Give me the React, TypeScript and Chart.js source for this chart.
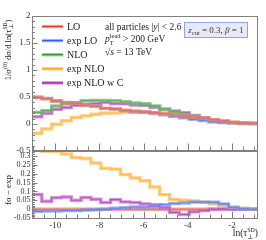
import React, { useEffect, useRef } from 'react';
import { Chart, registerables } from 'chart.js';

Chart.register(...registerables);

// ---------- data ----------
const binEdges = [-11.05, -10.605, -10.16, -9.716, -9.271, -8.826, -8.381, -7.936, -7.492, -7.047, -6.602, -6.157, -5.712, -5.268, -4.823, -4.378, -3.933, -3.488, -3.044, -2.599, -2.154, -1.709, -1.264, -0.82];

const seriesNames = ['LO', 'exp LO', 'NLO', 'exp NLO', 'exp NLO w C'];

// upper panel: 1/sigma0 dsigma/dln(tau)
const loTop = [0.488, 0.465, 0.422, 0.392, 0.382, 0.347, 0.33, 0.29, 0.28, 0.255, 0.24, 0.227, 0.21, 0.195, 0.172, 0.15, 0.125, 0.105, 0.08, 0.058, 0.03, 0.015, 0.01];
const expLoTop = [0.5, 0.475, 0.432, 0.4, 0.39, 0.352, 0.333, 0.29, 0.275, 0.247, 0.228, 0.215, 0.195, 0.17, 0.14, 0.115, 0.085, 0.065, 0.04, 0.028, 0.02, 0.013, 0.01];
const nloTop = [0.216, 0.247, 0.333, 0.37, 0.395, 0.432, 0.437, 0.435, 0.43, 0.413, 0.39, 0.375, 0.335, 0.277, 0.225, 0.18, 0.145, 0.108, 0.072, 0.048, 0.028, 0.016, 0.012];
const expNloTop = [-0.17, -0.09, -0.005, 0.06, 0.12, 0.15, 0.18, 0.205, 0.205, 0.218, 0.215, 0.215, 0.21, 0.195, 0.17, 0.13, 0.1, 0.068, 0.042, 0.026, 0.016, 0.01, 0.01];
const expNloCTop = [0.135, 0.2, 0.27, 0.303, 0.345, 0.366, 0.38, 0.397, 0.376, 0.372, 0.352, 0.345, 0.31, 0.269, 0.243, 0.21, 0.16, 0.116, 0.072, 0.046, 0.028, 0.016, 0.012];

// lower panel: fo - exp
const loDiff = [0, 0, 0, 0, 0, 0, 0, 0, 0, 0, 0, 0, 0, 0, 0, 0, 0, 0, 0, 0, 0, 0, 0];
const expLoDiff = [-0.012, -0.01, -0.01, -0.008, -0.008, -0.005, -0.003, 0.0, 0.005, 0.008, 0.012, 0.012, 0.015, 0.025, 0.032, 0.035, 0.04, 0.04, 0.04, 0.03, 0.01, 0.002, 0.0];
const expNloDiff = [0.4, 0.325, 0.325, 0.31, 0.29, 0.285, 0.26, 0.23, 0.225, 0.195, 0.175, 0.16, 0.125, 0.082, 0.055, 0.05, 0.046, 0.04, 0.03, 0.022, 0.012, 0.006, 0.002];
const expNloCDiff = [0.083, 0.045, 0.064, 0.069, 0.05, 0.066, 0.056, 0.038, 0.054, 0.041, 0.038, 0.03, 0.025, 0.008, -0.018, -0.03, -0.015, -0.008, 0.0, 0.002, 0.0, 0.0, 0.0];

const xTicks = [-10, -8, -6, -4, -2];
const yTopTicks = [-0.5, 0, 0.5, 1, 1.5, 2];
const yTopTickLabels = ['-0.5', '0', '0.5', '1', '1.5', '2'];
const yBotTicks = [-0.05, 0, 0.05, 0.1, 0.15, 0.2, 0.25, 0.3];
const yBotTickLabels = ['-0.05', '0', '0.05', '0.1', '0.15', '0.2', '0.25', '0.3'];

// ---------- styles ----------
const FAMILY = '"Liberation Serif", "DejaVu Serif", serif';
const COLORS = [
  { line: '#e03a28', band: 'rgba(240,130,110,0.75)' },
  { line: '#3050f0', band: 'rgba(120,150,245,0.7)' },
  { line: '#229922', band: 'rgba(110,190,110,0.75)' },
  { line: '#ff9a00', band: 'rgba(255,195,100,0.8)' },
  { line: '#990099', band: 'rgba(200,110,205,0.75)' },
];

type Seg = { t: string; italic?: boolean; size?: number; dy?: number; keep?: boolean };

function fontOf(s: Seg, base: number) {
  return `${s.italic ? 'italic ' : ''}${s.size ?? base}px ${FAMILY}`;
}
function richWidth(ctx: CanvasRenderingContext2D, segs: Seg[], base: number) {
  let w = 0;
  let pending = 0;
  for (const s of segs) {
    ctx.font = fontOf(s, base);
    const sw = ctx.measureText(s.t).width;
    if (s.keep) { pending = Math.max(pending, sw); continue; }
    w += Math.max(pending, sw);
    pending = 0;
  }
  return w + pending;
}
function drawRich(ctx: CanvasRenderingContext2D, segs: Seg[], x: number, y: number, base: number) {
  let cx = x;
  let pending = 0;
  ctx.textAlign = 'left';
  ctx.textBaseline = 'alphabetic';
  for (const s of segs) {
    ctx.font = fontOf(s, base);
    ctx.fillText(s.t, cx, y + (s.dy || 0));
    const sw = ctx.measureText(s.t).width;
    if (s.keep) { pending = Math.max(pending, sw); continue; }
    cx += Math.max(pending, sw);
    pending = 0;
  }
}

function mkSteps(vals: number[]) {
  const pts = vals.map((v, i) => ({ x: binEdges[i], y: v }));
  pts.push({ x: binEdges[binEdges.length - 1], y: vals[vals.length - 1] });
  return pts;
}

function pushSeries(list: any[], vals: number[], idx: number, axis: string) {
  const common = { data: mkSteps(vals), yAxisID: axis, xAxisID: 'x', stepped: 'before', pointRadius: 0, fill: false, tension: 0 };
  list.push({ ...common, label: seriesNames[idx] + ' band', borderColor: COLORS[idx].band, borderWidth: 3.4 });
  list.push({ ...common, label: seriesNames[idx], borderColor: COLORS[idx].line, borderWidth: 1.1 });
}

const decor = {
  id: 'decor',
  afterDatasetsDraw(chart: any) {
    const { ctx } = chart;
    const xs = chart.scales.x;
    const yT = chart.scales.y;
    const yB = chart.scales.y2;
    const L = Math.round(xs.left) + 0.5;
    const R = Math.round(xs.right) - 0.5;
    ctx.save();
    ctx.strokeStyle = '#808080';
    ctx.lineWidth = 1;
    const panels = [
      { s: yT, major: yTopTicks, minorStep: 0.1 },
      { s: yB, major: yBotTicks, minorStep: 0.01 },
    ];
    for (const p of panels) {
      const T = Math.round(p.s.top) + 0.5;
      const B = Math.round(p.s.bottom) - 0.5;
      ctx.strokeRect(L, T, R - L, B - T);
      ctx.beginPath();
      for (let v = -11; v <= -0.9; v += 0.5) {
        const px = Math.round(xs.getPixelForValue(v)) + 0.5;
        const major = xTicks.includes(v);
        const len = major ? 7 : 4;
        ctx.moveTo(px, B);
        ctx.lineTo(px, B - len);
      }
      const lo = p.s.min, hi = p.s.max;
      const n0 = Math.ceil(lo / p.minorStep - 1e-6), n1 = Math.floor(hi / p.minorStep + 1e-6);
      for (let k = n0; k <= n1; k++) {
        const v = k * p.minorStep;
        const py = Math.round(p.s.getPixelForValue(v)) + 0.5;
        const major = p.major.some((m: number) => Math.abs(m - v) < 1e-6);
        ctx.moveTo(L, py);
        ctx.lineTo(L + (major ? 5 : 2.5), py);
      }
      ctx.stroke();
    }
    ctx.restore();
  },
  afterDraw(chart: any) {
    const { ctx } = chart;
    ctx.save();
    ctx.fillStyle = '#222';
    seriesNames.forEach((name, i) => {
      const y = 26.5 + i * 14.1;
      ctx.lineCap = 'butt';
      ctx.strokeStyle = COLORS[i].band;
      ctx.lineWidth = 3.4;
      ctx.beginPath(); ctx.moveTo(42, y); ctx.lineTo(63, y); ctx.stroke();
      ctx.strokeStyle = COLORS[i].line;
      ctx.lineWidth = 1.1;
      ctx.beginPath(); ctx.moveTo(42, y); ctx.lineTo(63, y); ctx.stroke();
      drawRich(ctx, [{ t: name }], 67, y + 3.5, 10);
    });
    drawRich(ctx, [{ t: 'all particles |' }, { t: 'y', italic: true }, { t: '| < 2.6' }], 105, 29.5, 9.5);
    drawRich(ctx, [{ t: 'p', italic: true }, { t: 'lead', size: 6.5, dy: -4, keep: true }, { t: 'T', size: 6.5, dy: 2.5 }, { t: ' > 200 GeV' }], 105, 42, 9.5);
    drawRich(ctx, [{ t: '√' }, { t: 's', italic: true }, { t: ' = 13 TeV' }], 105, 54.5, 9.5);
    ctx.fillStyle = '#e7eaf8';
    ctx.strokeStyle = '#97a3e0';
    ctx.lineWidth = 1;
    ctx.fillRect(184, 22, 64, 16);
    ctx.strokeRect(184.5, 22.5, 63, 15);
    ctx.fillStyle = '#333';
    const boxSegs: Seg[] = [{ t: 'z', italic: true }, { t: 'cut', size: 6.5, dy: 2 }, { t: ' = 0.3, ' }, { t: 'β', italic: true }, { t: ' = 1' }];
    const bw = richWidth(ctx, boxSegs, 9);
    drawRich(ctx, boxSegs, 216 - bw / 2, 33, 9);
    ctx.fillStyle = '#222';
    const topTitle: Seg[] = [{ t: '1/σ' }, { t: '(0)', size: 6, dy: -3.5 }, { t: ' dσ/d ln(τ' }, { t: 'SD', size: 5.5, dy: -3.5, keep: true }, { t: '⊥', size: 6, dy: 2 }, { t: ')' }];
    let w = richWidth(ctx, topTitle, 8.5);
    ctx.save();
    ctx.translate(10.5, 50);
    ctx.rotate(-Math.PI / 2);
    drawRich(ctx, topTitle, -w / 2, 0, 8.5);
    ctx.restore();
    const botTitle: Seg[] = [{ t: 'fo − exp' }];
    w = richWidth(ctx, botTitle, 9);
    ctx.save();
    ctx.translate(10.5, 190);
    ctx.rotate(-Math.PI / 2);
    drawRich(ctx, botTitle, -w / 2, 0, 9);
    ctx.restore();
    const xTitle: Seg[] = [{ t: 'ln(τ' }, { t: 'SD', size: 6, dy: -4, keep: true }, { t: '⊥', size: 6.5, dy: 2.5 }, { t: ')' }];
    w = richWidth(ctx, xTitle, 9.5);
    drawRich(ctx, xTitle, 258 - w, 236, 9.5);
    ctx.restore();
  },
};

export default function App() {
  const ref = useRef<HTMLCanvasElement>(null);
  useEffect(() => {
    const datasets: any[] = [];
    const topSeries = [loTop, expLoTop, nloTop, expNloTop, expNloCTop];
    topSeries.forEach((vals, i) => pushSeries(datasets, vals, i, 'y'));
    pushSeries(datasets, expLoDiff, 1, 'y2');
    pushSeries(datasets, expNloDiff, 3, 'y2');
    pushSeries(datasets, expNloCDiff, 4, 'y2');
    pushSeries(datasets, loDiff, 0, 'y2');

    const chart = new Chart(ref.current as HTMLCanvasElement, {
      type: 'line',
      data: { datasets },
      options: {
        responsive: false,
        maintainAspectRatio: false,
        devicePixelRatio: 1,
        animation: false,
        events: [],
        layout: { padding: { left: 0, right: 8, top: 16, bottom: 0 } },
        plugins: { legend: { display: false }, tooltip: { enabled: false }, title: { display: false } },
        scales: {
          x: {
            type: 'linear',
            position: 'bottom',
            min: binEdges[0],
            max: binEdges[binEdges.length - 1],
            grid: { display: false, drawTicks: false },
            border: { display: false },
            afterBuildTicks: (s: any) => { s.ticks = xTicks.map((v) => ({ value: v })); },
            afterFit: (s: any) => { s.height = 21; },
            ticks: { autoSkip: false, maxRotation: 0, padding: 1.5, color: '#333', font: { family: FAMILY, size: 9 }, callback: (v: any) => String(v) },
          },
          y2: {
            type: 'linear',
            position: 'left',
            stack: 'panels',
            stackWeight: 68,
            min: -0.055,
            max: 0.327,
            grid: { display: false, drawTicks: false },
            border: { display: false },
            afterBuildTicks: (s: any) => { s.ticks = yBotTicks.map((v) => ({ value: v })); },
            afterFit: (s: any) => { s.width = 32; },
            ticks: { autoSkip: false, padding: 1.5, color: '#333', font: { family: FAMILY, size: 8 }, callback: (_v: any, i: number) => yBotTickLabels[i] },
          },
          y: {
            type: 'linear',
            position: 'left',
            stack: 'panels',
            stackWeight: 135,
            min: -0.5,
            max: 2,
            grid: { display: false, drawTicks: false },
            border: { display: false },
            afterBuildTicks: (s: any) => { s.ticks = yTopTicks.map((v) => ({ value: v })); },
            afterFit: (s: any) => { s.width = 32; },
            ticks: { autoSkip: false, padding: 1.5, color: '#333', font: { family: FAMILY, size: 9 }, callback: (_v: any, i: number) => yTopTickLabels[i] },
          },
        },
      } as any,
      plugins: [decor],
    });
    return () => chart.destroy();
  }, []);
  return (
    <div style={{ position: 'fixed', left: 0, top: 0, width: 266, height: 240, background: '#fff' }}>
      <canvas ref={ref} width={266} height={240} style={{ display: 'block', width: 266, height: 240 }} />
    </div>
  );
}
